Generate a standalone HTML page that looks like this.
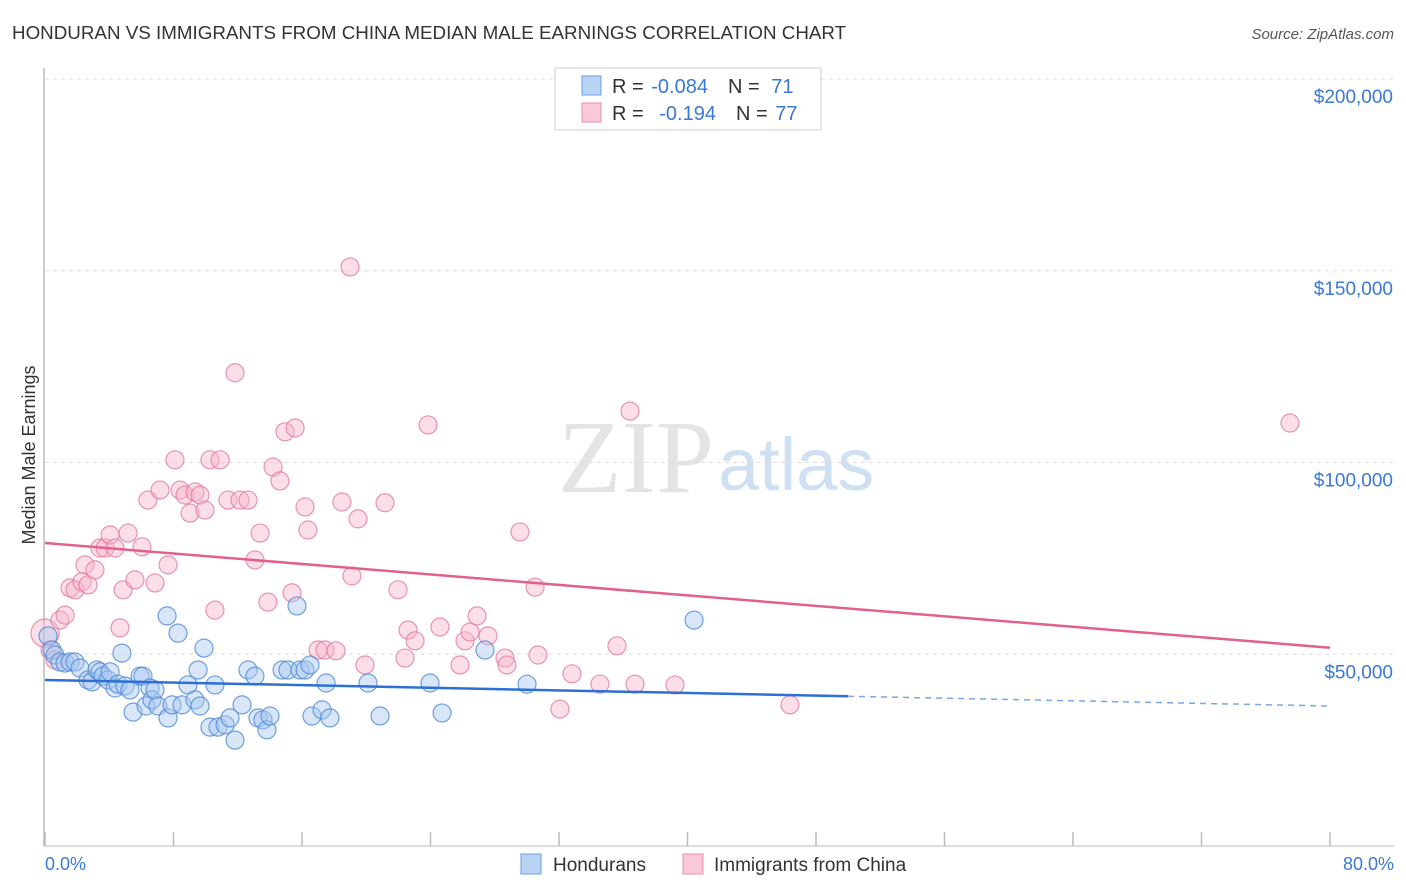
<!DOCTYPE html>
<html><head><meta charset="utf-8"><style>
body{margin:0;background:#fff;font-family:"Liberation Sans",sans-serif}
#c{position:absolute;left:0;top:0}
</style></head><body>
<svg id="c" width="1406" height="892" font-family="Liberation Sans, sans-serif">
<text x="12" y="39" font-size="18.8" fill="#333">HONDURAN VS IMMIGRANTS FROM CHINA MEDIAN MALE EARNINGS CORRELATION CHART</text>
<text x="1394" y="39" font-size="15" fill="#555" font-style="italic" text-anchor="end">Source: ZipAtlas.com</text>
<text x="714" y="492" font-size="104" fill="#e4e4e4" text-anchor="end" font-family="Liberation Serif, serif">ZIP</text>
<text x="718" y="490" font-size="74" fill="#cfe0f3">atlas</text>
<g id="grid"></g>
<g id="axes"></g>
<g id="pts"></g>
<g id="trend"></g>
<text x="35" y="455" font-size="18" fill="#333" text-anchor="middle" transform="rotate(-90 35 455)">Median Male Earnings</text>
<text x="45" y="870" font-size="18" fill="#3a78d6">0.0%</text>
<text x="1394" y="870" font-size="18" fill="#3a78d6" text-anchor="end">80.0%</text>
<g>
<rect x="555" y="68" width="266" height="62" fill="#fff" stroke="#ccc"/>
<rect x="582" y="76" width="19" height="19" fill="#b9d3f5" stroke="#6a9fe0"/>
<rect x="582" y="103" width="19" height="19" fill="#f9c9d8" stroke="#e990ad"/>
<text x="612" y="93" font-size="20" fill="#333">R = <tspan fill="#3a78d6" dx="2">-0.084</tspan><tspan dx="20">N = </tspan><tspan fill="#3a78d6" dx="6">71</tspan></text>
<text x="612" y="120" font-size="20" fill="#333">R = <tspan fill="#3a78d6" dx="10">-0.194</tspan><tspan dx="20">N = </tspan><tspan fill="#3a78d6" dx="2">77</tspan></text>
</g>
<g>
<rect x="521" y="854" width="20" height="20" fill="#b9d3f5" stroke="#6a9fe0"/>
<text x="553" y="871" font-size="19" fill="#333">Hondurans</text>
<rect x="683" y="854" width="20" height="20" fill="#f9c9d8" stroke="#e990ad"/>
<text x="714" y="871" font-size="19" fill="#333">Immigrants from China</text>
</g>
</svg>
<script>
const yTicks=[50000,100000,150000,200000];
const yTickLabels=["$50,000","$100,000","$150,000","$200,000"];
const xTicks=[0,8,16,24,32,40,48,56,64,72,80];
const blueX=[0.19,0.44,0.62,0.93,1.25,1.56,1.87,2.18,2.68,2.93,3.24,3.42,3.61,3.92,4.05,4.36,4.54,4.79,4.98,5.29,5.48,5.92,6.1,6.29,6.54,6.66,6.85,7.03,7.6,7.66,7.91,8.28,8.53,8.9,9.34,9.53,9.65,9.9,10.27,10.58,10.77,11.21,11.52,11.83,12.27,12.64,13.07,13.26,13.57,13.82,14.01,14.76,15.13,15.69,15.88,16.19,16.5,16.62,17.25,17.5,17.74,20.11,20.86,23.97,24.72,27.39,30.01,40.41];
const blueY=[54.8,51.1,49.8,48.0,47.7,48.0,48.0,46.4,43.3,42.8,45.9,45.4,44.3,43.3,45.4,41.2,42.2,50.3,41.7,40.7,34.9,44.3,44.3,36.5,41.2,38.1,40.7,36.5,60.0,33.4,36.8,55.5,36.8,42.0,38.1,45.9,36.5,51.6,31.0,42.0,31.0,31.6,33.4,27.6,36.8,45.9,44.3,33.4,32.9,30.3,33.9,45.9,45.9,62.6,45.9,45.9,47.2,33.9,35.5,42.5,33.4,42.5,33.9,42.5,34.7,51.1,42.2,58.9];
const pinkX=[0,0.31,0.62,0.93,1.25,1.56,1.87,2.3,2.49,2.68,3.11,3.42,3.74,4.05,4.36,4.67,4.86,5.17,5.6,6.04,6.41,6.85,7.16,7.66,8.09,8.41,8.72,9.03,9.34,9.65,9.96,10.27,10.58,10.9,11.39,11.83,12.14,12.64,13.07,13.39,13.88,14.2,14.63,14.94,15.38,15.57,16.19,16.37,17.0,17.43,18.12,18.49,18.99,19.11,19.49,19.92,21.17,21.98,22.41,22.6,23.04,23.85,24.59,25.84,26.15,26.46,26.9,27.58,28.64,28.76,29.57,30.51,30.69,32.06,32.81,34.55,35.61,36.42,36.73,39.22,46.38,77.51];
const pinkY=[55.5,51.1,48.5,58.9,60.2,67.3,66.8,68.9,73.3,68.1,72.0,77.7,77.7,81.1,77.7,56.9,66.8,81.6,69.4,78.0,90.2,68.6,92.8,73.3,100.7,92.8,91.5,86.8,92.3,91.5,87.6,100.7,61.5,100.7,90.2,123.4,90.2,90.2,74.6,81.6,63.6,98.8,95.2,108.0,66.0,109.0,88.4,82.4,51.1,51.1,50.9,89.7,151.0,70.4,85.3,47.2,89.5,66.8,49.0,56.3,53.5,109.8,57.1,47.2,53.5,55.8,60.0,54.8,49.0,47.2,81.9,67.5,49.8,35.7,44.9,42.2,52.2,113.4,42.2,42.0,36.8,110.3];
const blueTrend=[43300,36500];
const pinkTrend=[79000,51700];
const NS="http://www.w3.org/2000/svg";
const X0=45,X1=1330,Y0=846,PXK=191.75/50000;
const sx=v=>X0+(v/80)*(X1-X0);
const sy=v=>Y0-v*PXK;
function mk(t,a,p){const e=document.createElementNS(NS,t);for(const k in a)e.setAttribute(k,a[k]);p.appendChild(e);return e;}
const grid=document.getElementById('grid'),axes=document.getElementById('axes'),pts=document.getElementById('pts'),tr=document.getElementById('trend');
yTicks.forEach((v,i)=>{
 const l=mk('line',{x1:X0,x2:1394,y1:sy(v),y2:sy(v),stroke:'#ddd','stroke-dasharray':'4,4'},grid);
 
 
 const t=mk('text',{x:1393,y:sy(v)+24,'font-size':19,fill:'#3a78d6','text-anchor':'end'},grid);
 t.textContent=yTickLabels[i];
 
 
});
const ya=mk('line',{x1:44,x2:44,y1:68,y2:Y0,stroke:'#bbb','stroke-width':1.5},axes);


const xa=mk('line',{x1:44,x2:1394,y1:Y0,y2:Y0,stroke:'#bbb','stroke-width':1},axes);


xTicks.forEach(v=>{
 const t=mk('line',{x1:sx(v),x2:sx(v),y1:832,y2:Y0,stroke:'#bbb','stroke-width':1.5},axes);
 
 
});
function dots(xs,ys,fill,stroke,name){
 xs.forEach((x,i)=>{
  const big=(x<0.1);
  const c=mk('circle',{cx:sx(x),cy:sy(ys[i]*1000),r:big?14:9,fill:fill,'fill-opacity':0.45,stroke:stroke,'stroke-opacity':0.8,'stroke-width':1.2},pts);
  
  
 });
}
dots(pinkX,pinkY,'#f7b6cb','#e27c9e','china-point');
dots(blueX,blueY,'#a9c8f0','#4f8ad8','honduran-point');
const bEnd=50;
const bmid=blueTrend[0]+(blueTrend[1]-blueTrend[0])*bEnd/80;
let l=mk('line',{x1:sx(0),y1:sy(blueTrend[0]),x2:sx(bEnd),y2:sy(bmid),stroke:'#2c6fd6','stroke-width':2.5},tr);


l=mk('line',{x1:sx(bEnd),y1:sy(bmid),x2:sx(80),y2:sy(blueTrend[1]),stroke:'#7aa6e4','stroke-width':1.5,'stroke-dasharray':'6,5'},tr);


l=mk('line',{x1:sx(0),y1:sy(pinkTrend[0]),x2:sx(80),y2:sy(pinkTrend[1]),stroke:'#e0608e','stroke-width':2.5},tr);


</script>
</body></html>
